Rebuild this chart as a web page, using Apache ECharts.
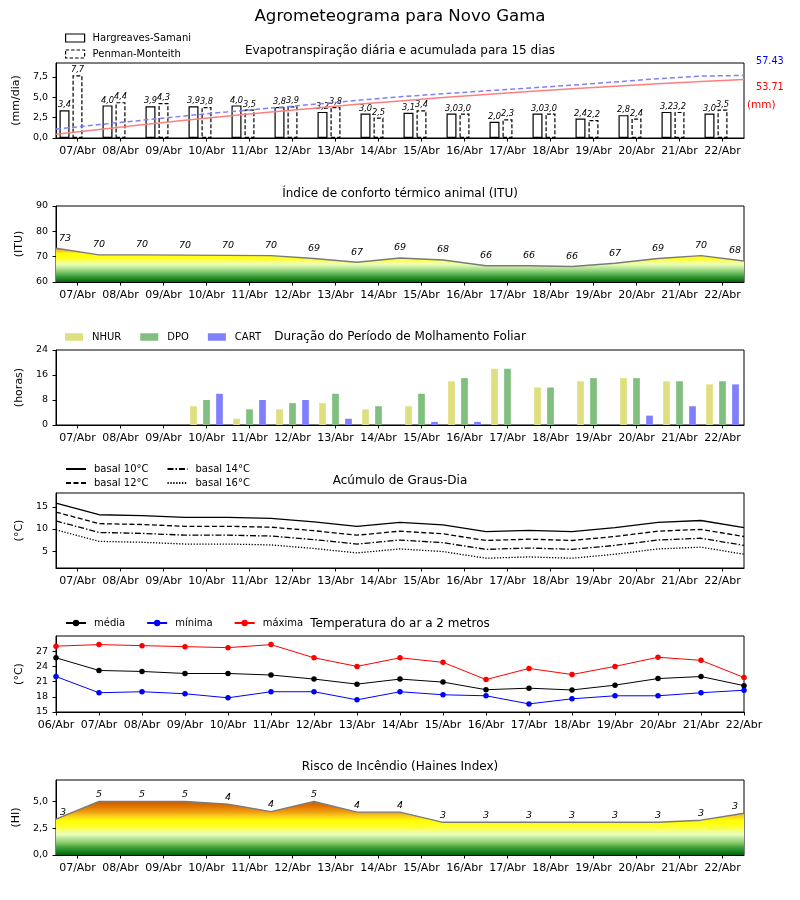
<!DOCTYPE html>
<html><head><meta charset="utf-8">
<script src="https://cdn.jsdelivr.net/npm/echarts@6/dist/echarts.min.js"></script>
<style>html,body{margin:0;padding:0;background:#fff}#c{width:800px;height:900px}</style>
</head><body><div id="c"></div><script>
// ---------- data ----------
const days = ['07/Abr','08/Abr','09/Abr','10/Abr','11/Abr','12/Abr','13/Abr','14/Abr','15/Abr','16/Abr','17/Abr','18/Abr','19/Abr','20/Abr','21/Abr','22/Abr'];
const tempDays = ['06/Abr','07/Abr','08/Abr','09/Abr','10/Abr','11/Abr','12/Abr','13/Abr','14/Abr','15/Abr','16/Abr','17/Abr','18/Abr','19/Abr','20/Abr','21/Abr','22/Abr'];
const etHargreaves = [3.4,4.0,3.9,3.9,4.0,3.8,3.2,3.0,3.1,3.0,2.0,3.0,2.4,2.8,3.2,3.0];
const etPenman     = [7.7,4.4,4.3,3.8,3.5,3.9,3.8,2.5,3.4,3.0,2.3,3.0,2.2,2.4,3.2,3.5];
const accHargreaves = [3.4,7.8,12.1,16.2,20.1,23.9,27.4,30.9,34.1,37.1,40.0,42.7,45.3,47.6,49.8,51.9,53.71];
const accPenman     = [8.2,12.3,16.3,20.3,24.0,27.5,31.0,34.5,37.9,40.6,43.3,45.9,48.5,51.5,54.5,56.9,57.43];
const accTotals = {penman:'57.43', hargreaves:'53.71'};
const itu = [73.3,70.7,70.7,70.6,70.5,70.4,69.3,67.8,69.5,68.7,66.4,66.4,66.1,67.4,69.3,70.4,68.3];
const wetNHUR = [0,0,0,6,2,5,7,5,6,14,18,12,14,15,14,13];
const wetDPO  = [0,0,0,8,5,7,10,6,10,15,18,12,15,15,14,14];
const wetCART = [0,0,0,10,8,8,2,0,1,1,0,0,0,3,6,13];
const gd10 = [15.8,13.2,13.0,12.6,12.6,12.4,11.6,10.6,11.5,10.9,9.4,9.7,9.4,10.3,11.5,11.9,10.3];
const gd12 = [13.8,11.2,11.0,10.6,10.6,10.4,9.6,8.6,9.5,8.9,7.4,7.7,7.4,8.3,9.5,9.9,8.3];
const gd14 = [11.8,9.2,9.0,8.6,8.6,8.4,7.6,6.6,7.5,6.9,5.4,5.7,5.4,6.3,7.5,7.9,6.3];
const gd16 = [9.8,7.2,7.0,6.6,6.6,6.4,5.6,4.6,5.5,4.9,3.4,3.7,3.4,4.3,5.5,5.9,4.3];
const tMed = [25.7,23.2,23.0,22.6,22.6,22.3,21.5,20.5,21.5,20.9,19.4,19.7,19.35,20.3,21.6,22.0,20.2];
const tMin = [22.0,18.8,19.0,18.6,17.8,19.0,19.0,17.4,19.0,18.4,18.2,16.6,17.6,18.2,18.2,18.8,19.3];
const tMax = [28.0,28.3,28.1,27.9,27.7,28.3,25.7,24.0,25.7,24.8,21.4,23.6,22.4,24.0,25.8,25.2,21.8];
const haines = [3.35,5.0,5.0,5.0,4.75,4.05,5.0,4.0,4.0,3.05,3.05,3.05,3.05,3.05,3.05,3.25,3.9];
const ticksET = [0,2.5,5,7.5];
const ticksGD = [5,10,15];
const ticksT = [15,18,21,24,27];
const ticksHI = [0,2.5,5];

// ---------- layout ----------
const FONT = 'DejaVu Sans';
const L = 56, R = 56;
const GR = [[63,75],[206,76],[350,75],[493,75],[636,76],[780,75]];
const comma1 = v => v.toFixed(1).replace('.', ',');

function catAxis(g, data, extra) {
  return Object.assign({
    type:'category', gridIndex:g, data:data, boundaryGap:true,
    axisLine:{show:true, lineStyle:{color:'#000', width:1}},
    axisTick:{show:true, alignWithLabel:true, interval:0, length:3.5, lineStyle:{color:'#000'}},
    axisLabel:{interval:0, fontSize:11, color:'#000', margin:8, fontFamily:FONT},
    splitLine:{show:false}
  }, extra||{});
}
function hidX(g){ return {type:'value', gridIndex:g, min:0, max:16, show:false}; }
function valY(g, min, max, opts) {
  const ax = {
    type:'value', gridIndex:g, min:min, max:max,
    axisLine:{show:true, lineStyle:{color:'#000', width:1}},
    axisTick:{show:true, length:3.5, lineStyle:{color:'#000'}},
    axisLabel:{fontSize:9.5, color:'#000', margin:8, fontFamily:FONT},
    splitLine:{show:false},
    name:opts.name, nameLocation:'middle', nameGap:opts.gap, nameRotate:90,
    nameTextStyle:{fontSize:11, color:'#000', fontFamily:FONT}
  };
  if (opts.interval) ax.interval = opts.interval;
  if (opts.ticks) { ax.axisTick.customValues = opts.ticks; ax.axisLabel.customValues = opts.ticks; }
  if (opts.fmt) ax.axisLabel.formatter = opts.fmt;
  return ax;
}
function grad(g, min, max, stops) {
  const top = GR[g][0], bot = GR[g][0] + GR[g][1];
  return new echarts.graphic.LinearGradient(0, top, 0, bot,
    stops.map(s => ({offset: Math.min(1, Math.max(0, (max - s[0]) / (max - min))), color: s[1]})), true);
}
const ituStops = [[90,'#e04000'],[74,'#f07a20'],[73,'#f5a032'],[72,'#fbd21e'],[71.3,'#ffff00'],[69,'#ffff28'],[68,'#f6ff82'],[67,'#ebffb4'],[66,'#cbeea2'],[65,'#a8dc8c'],[64,'#80c870'],[63,'#58b050'],[62,'#379637'],[61,'#1c7e20'],[60,'#006400']];
const hiStops = [[7,'#a03000'],[5.2,'#c45000'],[5.0,'#cf5a00'],[4.5,'#e07800'],[4.0,'#f0a010'],[3.6,'#fad21e'],[3.2,'#ffff00'],[2.6,'#ffff30'],[2.2,'#f0ff90'],[1.9,'#e8ffc0'],[1.6,'#c0e8a0'],[1.2,'#90d070'],[0.8,'#50a840'],[0.4,'#208828'],[0,'#006400']];

function edgeLabels(arr, dx0, dx1) {
  return arr.map((v,i) => {
    const d = {value:[i, v]};
    if (i === 0) d.label = {offset:[dx0,0]};
    if (i === arr.length-1) d.label = {offset:[dx1,0]};
    return d;
  });
}
const barLabel = {show:true, position:'top', distance:1, fontSize:8.3, fontStyle:'italic', color:'#000', fontFamily:FONT, formatter:p=>comma1(p.value)};
const intLabel = (dist) => ({show:true, position:'top', distance:dist, fontSize:9.5, fontStyle:'italic', color:'#000', fontFamily:FONT, formatter:p=>String(Math.floor(p.value[1]))});

const texts = [
  ['Agrometeograma para Novo Gama', 400, 17, 16.6, '#000', 'center'],
  ['Evapotranspiração diária e acumulada para 15 dias', 400, 51, 12, '#000', 'center'],
  ['Índice de conforto térmico animal (ITU)', 400, 194, 12, '#000', 'center'],
  ['Duração do Período de Molhamento Foliar', 400, 337, 12, '#000', 'center'],
  ['Acúmulo de Graus-Dia', 400, 481, 12, '#000', 'center'],
  ['Temperatura do ar a 2 metros', 400, 624, 12, '#000', 'center'],
  ['Risco de Incêndio (Haines Index)', 400, 767, 12, '#000', 'center'],
  [accTotals.penman, 756, 61, 9.7, '#0000ff', 'left'],
  [accTotals.hargreaves, 756, 87, 9.7, '#ff0000', 'left'],
  ['(mm)', 747, 105, 10.5, '#ff0000', 'left']
];

const legendBase = {selectedMode:false, padding:0, textStyle:{fontSize:10, color:'#000', fontFamily:FONT, padding:[0,0,0,3]}};
const noSym = {opacity:0, color:'rgba(0,0,0,0)', borderWidth:0};
const dashBorder = [3.5,2];

const option = {
  animation:false,
  backgroundColor:'#fff',
  textStyle:{fontFamily:FONT, color:'#000'},
  graphic: texts.map(t => ({type:'text', silent:true, style:{text:t[0], x:t[1], y:t[2], fill:t[4], font:t[3]+'px "'+FONT+'"', align:t[5], verticalAlign:'middle', textAlign:t[5], textVerticalAlign:'middle'}})),
  grid: GR.map(g => ({left:L, right:R, top:g[0], height:g[1], show:true, borderColor:'#000', borderWidth:1, backgroundColor:'rgba(0,0,0,0)', containLabel:false, outerBoundsMode:'none'})),
  legend: [
    Object.assign({}, legendBase, {data:[
        {name:'Hargreaves-Samani', itemStyle:{color:'#fff', borderColor:'#000', borderWidth:1.2, borderType:'solid'}},
        {name:'Penman-Monteith', itemStyle:{color:'#fff', borderColor:'#000', borderWidth:1.2, borderType:dashBorder}}
      ], orient:'vertical', left:65, top:33, itemWidth:19, itemHeight:8, itemGap:6, icon:'rect'}),
    Object.assign({}, legendBase, {data:['NHUR','DPO','CART'], orient:'horizontal', left:65, top:332, itemWidth:18, itemHeight:7.5, itemGap:19, icon:'rect', textStyle:Object.assign({}, legendBase.textStyle, {padding:[0,0,0,4]})}),
    Object.assign({}, legendBase, {data:['basal 10°C','basal 14°C'], orient:'horizontal', left:65, top:464, itemWidth:20, itemHeight:8, itemGap:18, itemStyle:noSym}),
    Object.assign({}, legendBase, {data:['basal 12°C','basal 16°C'], orient:'horizontal', left:65, top:478, itemWidth:20, itemHeight:8, itemGap:18, itemStyle:noSym}),
    Object.assign({}, legendBase, {data:['média','mínima','máxima'], orient:'horizontal', left:65, top:618, itemWidth:20, itemHeight:8, itemGap:21})
  ],
  xAxis: [
    catAxis(0, days), hidX(0),
    catAxis(1, days), hidX(1),
    catAxis(2, days),
    catAxis(3, days), hidX(3),
    catAxis(4, tempDays, {boundaryGap:false, axisTick:{show:true, interval:0, length:3.5, lineStyle:{color:'#000'}}}),
    catAxis(5, days), hidX(5)
  ],
  yAxis: [
    valY(0, 0, 9.2, {name:'(mm/dia)', gap:31, ticks:ticksET, fmt:comma1}),
    {type:'value', gridIndex:0, min:0, max:68.9, show:false},
    valY(1, 60, 90, {name:'(ITU)', gap:21, interval:10}),
    valY(2, 0, 24, {name:'(horas)', gap:21, interval:8}),
    valY(3, 1.2, 18.1, {name:'(°C)', gap:21, ticks:ticksGD}),
    valY(4, 15, 30, {name:'(°C)', gap:21, ticks:ticksT}),
    valY(5, 0, 7, {name:'(HI)', gap:31, ticks:ticksHI, fmt:comma1})
  ],
  series: [
    {type:'bar', name:'Hargreaves-Samani', xAxisIndex:0, yAxisIndex:0, data:etHargreaves, barWidth:10, barGap:'30%',
      itemStyle:{color:'#fff', borderColor:'#000', borderWidth:1.2}, label:barLabel},
    {type:'bar', name:'Penman-Monteith', xAxisIndex:0, yAxisIndex:0, data:etPenman, barWidth:10, barGap:'30%',
      itemStyle:{color:'#fff', borderColor:'#000', borderWidth:1.2, borderType:[4,2]}, label:barLabel},
    {type:'bar', name:'_slot', xAxisIndex:0, yAxisIndex:0, data:[], barWidth:10, barGap:'30%'},
    {type:'line', name:'acc H', xAxisIndex:1, yAxisIndex:1, data:accHargreaves.map((v,i)=>[i,v]), symbol:'none', z:5,
      lineStyle:{color:'#ff7f7f', width:1.5}},
    {type:'line', name:'acc P', xAxisIndex:1, yAxisIndex:1, data:accPenman.map((v,i)=>[i,v]), symbol:'none', z:5,
      lineStyle:{color:'#7f7fff', width:1.5, type:[5,3]}},
    {type:'line', name:'ITU', xAxisIndex:3, yAxisIndex:2, data:edgeLabels(itu, 9, -9), symbol:'circle', symbolSize:2, showSymbol:true, showAllSymbol:true,
      itemStyle:{color:'rgba(0,0,0,0)', borderWidth:0},
      lineStyle:{color:'#7a7a7a', width:1.4}, areaStyle:{color:grad(1, 60, 90, ituStops), opacity:1, origin:'start'},
      label:intLabel(4)},
    {type:'bar', name:'NHUR', xAxisIndex:4, yAxisIndex:3, data:wetNHUR, barWidth:6.7, barGap:'94%', itemStyle:{color:'#dfdf80'}},
    {type:'bar', name:'DPO', xAxisIndex:4, yAxisIndex:3, data:wetDPO, barWidth:6.7, barGap:'94%', itemStyle:{color:'#80bf80'}},
    {type:'bar', name:'CART', xAxisIndex:4, yAxisIndex:3, data:wetCART, barWidth:6.7, barGap:'94%', itemStyle:{color:'#8080ff'}},
    {type:'line', name:'basal 10°C', xAxisIndex:6, yAxisIndex:4, data:gd10.map((v,i)=>[i,v]), symbol:'none', lineStyle:{color:'#000', width:1.3, type:'solid'}, itemStyle:{color:'#000'}},
    {type:'line', name:'basal 12°C', xAxisIndex:6, yAxisIndex:4, data:gd12.map((v,i)=>[i,v]), symbol:'none', lineStyle:{color:'#000', width:1.3, type:[5,2.5]}, itemStyle:{color:'#000'}},
    {type:'line', name:'basal 14°C', xAxisIndex:6, yAxisIndex:4, data:gd14.map((v,i)=>[i,v]), symbol:'none', lineStyle:{color:'#000', width:1.3, type:[6,2,1.5,2]}, itemStyle:{color:'#000'}},
    {type:'line', name:'basal 16°C', xAxisIndex:6, yAxisIndex:4, data:gd16.map((v,i)=>[i,v]), symbol:'none', lineStyle:{color:'#000', width:1.3, type:[1.3,1.6]}, itemStyle:{color:'#000'}},
    {type:'line', name:'média', xAxisIndex:7, yAxisIndex:5, data:tMed, symbol:'circle', symbolSize:5.5, lineStyle:{color:'#000', width:1}, itemStyle:{color:'#000'}},
    {type:'line', name:'mínima', xAxisIndex:7, yAxisIndex:5, data:tMin, symbol:'circle', symbolSize:5.5, lineStyle:{color:'#0000ff', width:1}, itemStyle:{color:'#0000ff'}},
    {type:'line', name:'máxima', xAxisIndex:7, yAxisIndex:5, data:tMax, symbol:'circle', symbolSize:5.5, lineStyle:{color:'#ff0000', width:1}, itemStyle:{color:'#ff0000'}},
    {type:'line', name:'HI', xAxisIndex:9, yAxisIndex:6, data:edgeLabels(haines, 7, -9), symbol:'circle', symbolSize:2, showSymbol:true, showAllSymbol:true,
      itemStyle:{color:'rgba(0,0,0,0)', borderWidth:0},
      lineStyle:{color:'#7a7a7a', width:1.4}, areaStyle:{color:grad(5, 0, 7, hiStops), opacity:1, origin:'start'},
      label:intLabel(1)}
  ]
};
const chart = echarts.init(document.getElementById('c'), null, {renderer:'canvas', width:800, height:900});
chart.setOption(option);
</script></body></html>
